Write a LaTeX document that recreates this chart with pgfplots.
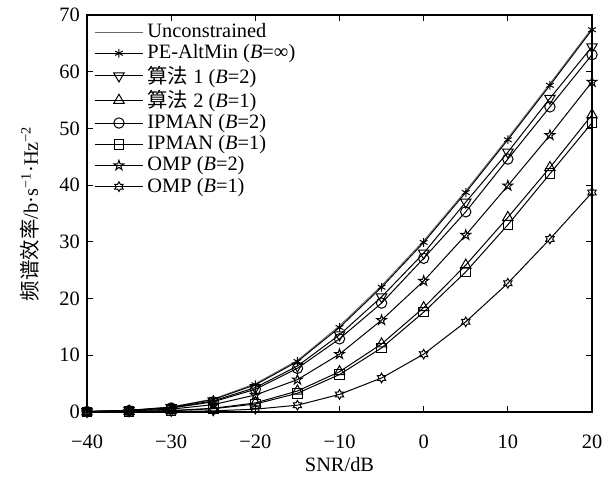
\documentclass[border=0pt]{standalone}
\usepackage{fontspec}
\setmainfont{Liberation Serif}
\newfontfamily\cjk{Noto Sans CJK SC}
\usepackage{pgfplots}
\pgfplotsset{compat=1.18}

% open pentagram and hexagram marks
\pgfdeclareplotmark{pentagram}{%
  \pgfpathmoveto{\pgfpointpolar{90}{\pgfplotmarksize}}%
  \foreach \a in {0,...,4}{%
    \pgfpathlineto{\pgfpointpolar{90+72*\a+36}{0.382\pgfplotmarksize}}%
    \pgfpathlineto{\pgfpointpolar{90+72*\a+72}{\pgfplotmarksize}}%
  }%
  \pgfpathclose\pgfusepathqstroke}
\pgfdeclareplotmark{hexagram}{%
  \pgfpathmoveto{\pgfpointpolar{90}{\pgfplotmarksize}}%
  \foreach \a in {0,...,5}{%
    \pgfpathlineto{\pgfpointpolar{90+60*\a+30}{0.577\pgfplotmarksize}}%
    \pgfpathlineto{\pgfpointpolar{90+60*\a+60}{\pgfplotmarksize}}%
  }%
  \pgfpathclose\pgfusepathqstroke}

\pgfplotstableread{
snr   unc   pe    alg1  ipm2  omp2  alg2  ipm1  omp1
-40   0.10  0.10  0.09  0.08  0.06  0.03  0.03  0.01
-35   0.30  0.30  0.27  0.25  0.18  0.10  0.09  0.03
-30   0.90  0.85  0.75  0.70  0.50  0.25  0.22  0.08
-25   2.30  2.20  1.95  1.80  1.30  0.65  0.58  0.20
-20   5.00  4.80  4.30  4.00  3.00  1.60  1.40  0.50
-15   9.10  8.90  8.10  7.70  5.70  3.70  3.30  1.20
-10  15.20 14.90 13.60 12.90 10.20  7.10  6.60  3.10
-5   22.30 22.00 20.30 19.20 16.20 12.00 11.30  6.00
0    30.20 29.90 28.00 27.10 23.10 18.40 17.60 10.20
5    39.00 38.70 37.00 35.30 31.20 25.90 24.70 15.90
10   48.30 48.00 45.80 44.60 39.90 34.30 33.00 22.70
15   57.90 57.60 55.30 53.80 48.80 43.10 42.00 30.50
20   67.70 67.40 64.40 63.00 58.20 52.40 51.00 38.70
}\data

\begin{document}
\fontsize{10.2}{12}\selectfont
\begin{tikzpicture}
\begin{axis}[
  scale only axis,
  width=252.5pt,
  height=198.5pt,
  xmin=-40, xmax=20,
  ymin=0, ymax=70,
  xtick={-40,-30,...,20},
  xticklabels={−40,−30,−20,−10,0,10,20},
  ytick={0,10,...,70},
  yticklabels={0,10,20,30,40,50,60,70},
  tick align=inside,
  major tick length=3pt,
  tick style={black, line width=0.5pt},
  axis line style={line width=0.6pt},
  xlabel={SNR/dB},
  ylabel={{\cjk 频谱效率}/b·s\textsuperscript{−1}·Hz\textsuperscript{−2}},
  xlabel style={at={(axis description cs:0.5,0)}, anchor=center, yshift=-26.5pt},
  ylabel style={at={(axis description cs:0,0.5)}, anchor=center, yshift=28.5pt},
  xticklabel style={yshift=-8pt},
  ticklabel style={font=\fontsize{10.2}{12}\selectfont},
  label style={font=\fontsize{10.2}{12}\selectfont},
  every axis plot/.append style={black, line width=0.5pt, mark options={solid, line width=0.5pt}},
  legend style={at={(0.01,0.995)}, anchor=north west, draw=none, fill=none,
    font=\fontsize{10.2}{10.85}\selectfont, inner sep=1pt, row sep=-2pt},
  legend cell align=left,
  legend image code/.code={%
    \draw[mark repeat=2, mark phase=2] plot coordinates {(0pt,0pt) (12pt,0pt) (24pt,0pt)};},
]
\addplot[black!60, line width=0.4pt, no marks] table[x=snr, y=unc] {\data};
\addplot[mark=asterisk, mark size=2.2pt] table[x=snr, y=pe] {\data};
\addplot[mark=triangle, mark size=3pt, mark options={rotate=180}] table[x=snr, y=alg1] {\data};
\addplot[mark=triangle, mark size=3pt] table[x=snr, y=alg2] {\data};
\addplot[mark=o, mark size=2.6pt] table[x=snr, y=ipm2] {\data};
\addplot[mark=square, mark size=2.4pt] table[x=snr, y=ipm1] {\data};
\addplot[mark=pentagram, mark size=2.6pt] table[x=snr, y=omp2] {\data};
\addplot[mark=hexagram, mark size=2.4pt] table[x=snr, y=omp1] {\data};
\legend{Unconstrained,
  PE-AltMin (\textit{B}=∞),
  {{\cjk 算法} 1 (\textit{B}=2)},
  {{\cjk 算法} 2 (\textit{B}=1)},
  IPMAN (\textit{B}=2),
  IPMAN (\textit{B}=1),
  OMP (\textit{B}=2),
  OMP (\textit{B}=1)}
\end{axis}
\useasboundingbox (current axis.south west)++(-43.5pt,-32pt) rectangle ([xshift=10.5pt,yshift=7.5pt]current axis.north east);
\end{tikzpicture}
\end{document}
